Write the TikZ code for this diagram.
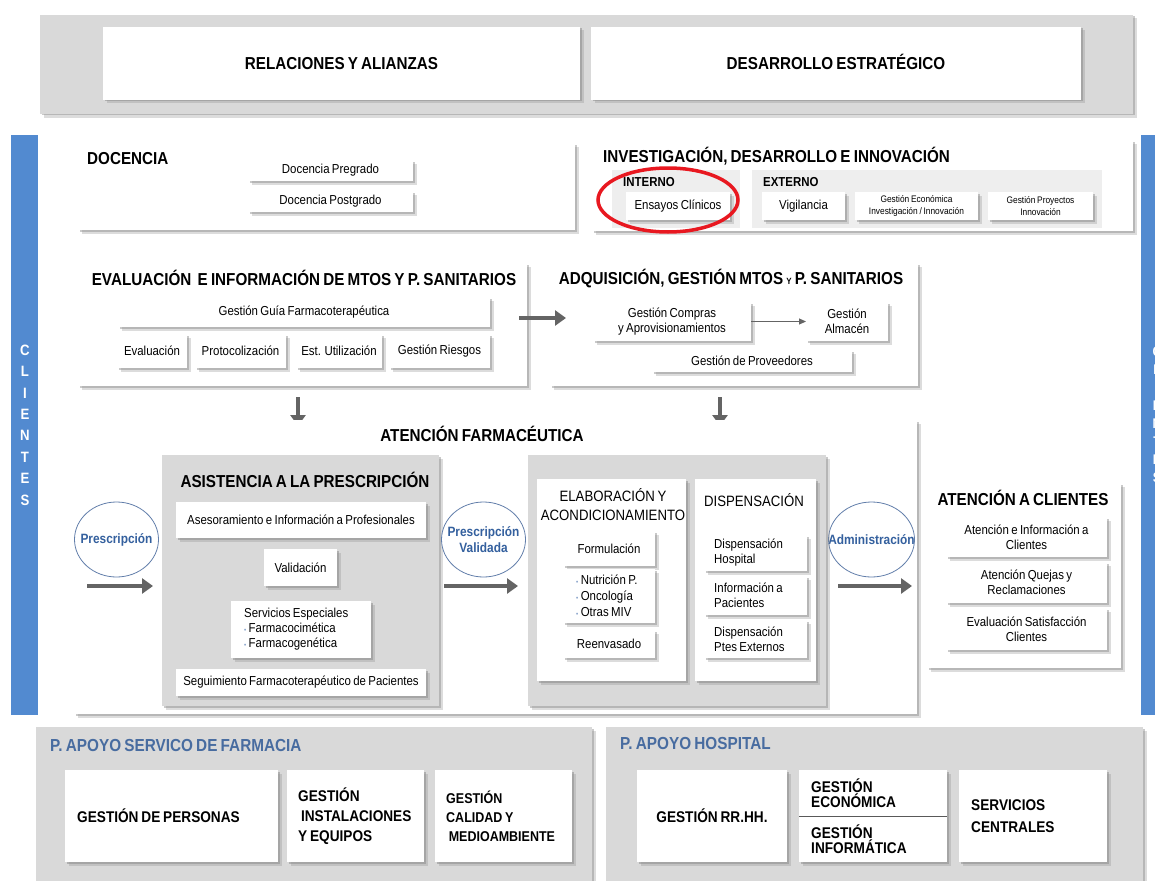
\documentclass[tikz,border=0pt]{standalone}
\usepackage{fontspec}
\setmainfont{Liberation Sans}[FakeStretch=0.88,WordSpace=0.75]
\usetikzlibrary{shapes.geometric,arrows.meta,shadows,fit}

\definecolor{panelgray}{RGB}{217,217,217}
\definecolor{lightpanel}{RGB}{238,238,238}
\definecolor{clientblue}{RGB}{82,138,208}
\definecolor{titleblue}{RGB}{72,108,160}
\definecolor{ovaltext}{RGB}{52,96,158}
\definecolor{ovalline}{RGB}{98,126,170}
\definecolor{arrowgray}{RGB}{100,100,100}
\definecolor{ringred}{RGB}{232,24,32}
\definecolor{bulletblue}{RGB}{120,150,195}

% empty box spanning two opposite corners: [options]{corner}{corner}{name}
\newcommand{\boxnode}[4][]{\node[inner sep=0pt, outer sep=0pt, fit={#2 #3}, #1] (#4) {};}
% box with its text centred: [box options]{corner}{corner}{name}{text options}{text}
\newcommand{\cbox}[6][]{\boxnode[#1]{#2}{#3}{#4}\node[#5] (#4t) at (#4.center) {#6};}
% box with its text set flush left: [box options]{corner}{corner}{name}{margin}{text options}{text}
\newcommand{\lbox}[7][]{\boxnode[#1]{#2}{#3}{#4}\node[anchor=west, #6] (#4t) at ([xshift=#5]#4.west) {#7};}
\newcommand{\bul}{{\color{bulletblue}\scriptsize\textbullet}\ }

\tikzset{
  softshadow/.style={
    drop shadow={shadow xshift=1.5pt, shadow yshift=-1.5pt, fill=black!60, opacity=0.35},
    drop shadow={shadow xshift=3.5pt, shadow yshift=-3.5pt, fill=black!45, opacity=0.3}},
  panel/.style={fill=panelgray, softshadow},
  whitebox/.style={fill=white, softshadow},
  item/.style={fill=white, softshadow},
  itxt/.style={font=\fontsize{13}{15}\selectfont, align=center, inner sep=0pt},
  ltxt/.style={font=\fontsize{13}{15}\selectfont, align=left, inner sep=0pt},
  tiny/.style={font=\fontsize{9.5}{11.5}\selectfont, align=center, inner sep=0pt},
  ttl/.style={font=\bfseries\fontsize{17.3}{19}\selectfont, inner sep=0pt, text height=12.4pt, text depth=0pt},
  sublabel/.style={font=\bfseries\fontsize{13}{15}\selectfont, inner sep=0pt},
  support/.style={fill=white, softshadow},
  stxt/.style={font=\bfseries\fontsize{15.5}{20}\selectfont, align=left, inner sep=0pt},
  btitle/.style={font=\bfseries\fontsize{17.4}{19}\selectfont, text=titleblue, inner sep=0pt},
  oval/.style={ellipse, draw=ovalline, line width=0.8pt, fill=white, minimum width=84pt,
    minimum height=75pt, inner sep=0pt},
  ovaltxt/.style={font=\bfseries\fontsize{13.5}{16}\selectfont, text=ovaltext, align=center, inner sep=0pt},
  bigarrow/.style={draw=arrowgray, line width=4.5pt, -{Triangle[length=11pt,width=15pt]}},
  thinarrow/.style={draw=arrowgray, line width=0.9pt, -{Triangle[length=7pt,width=6pt]}},
  letters/.style={font=\bfseries\fontsize{15}{21.4}\selectfont, text=white, align=center, inner sep=0pt}
}

\begin{document}
\begin{tikzpicture}[x=1pt,y=-1pt]
\useasboundingbox (0,0) rectangle (1155,880);
\clip (0,0) rectangle (1155,880);

% ---------- strategic processes ----------
\boxnode[panel]{(40,15)}{(1133,114)}{strat}
\cbox[whitebox]{(103,27)}{(580,100)}{rel}{ttl}{RELACIONES Y ALIANZAS}
\cbox[whitebox]{(591,27)}{(1081,100)}{des}{ttl}{DESARROLLO ESTRATÉGICO}

% ---------- client bars ----------
\boxnode[fill=clientblue]{(11,135)}{(38,715)}{cliL}
\node[letters] (cliLT) at (25,425) {C\\L\\I\\E\\N\\T\\E\\S};
\boxnode[fill=clientblue]{(1141,135)}{(1170,715)}{cliR}
\node[letters, font=\bfseries\fontsize{14}{18}\selectfont] (cliRT) at (1157,415) {C\\L\\I\\E\\N\\T\\E\\S};

% ---------- teaching ----------
\boxnode[whitebox]{(78,143)}{(575,230)}{doc}
\node[ttl, anchor=west] (docT) at (87,158) {DOCENCIA};
\cbox[item]{(248,160)}{(413,181)}{dpre}{itxt}{Docencia Pregrado}
\cbox[item]{(248,191)}{(413,212)}{dpos}{itxt}{Docencia Postgrado}

% ---------- research ----------
\boxnode[whitebox]{(592,140)}{(1133,231)}{idi}
\node[ttl, anchor=west] (idiT) at (603,156) {INVESTIGACIÓN, DESARROLLO E INNOVACIÓN};
\boxnode[fill=lightpanel]{(612,170)}{(740,228)}{intP}
\boxnode[fill=lightpanel]{(752,170)}{(1102,228)}{extP}
\node[sublabel, anchor=west] (intT) at (623,182) {INTERNO};
\node[sublabel, anchor=west] (extT) at (763,182) {EXTERNO};
\cbox[item]{(626,192)}{(730,220)}{ens}{itxt}{Ensayos Clínicos}
\cbox[item]{(762,192)}{(845,220)}{vig}{itxt}{Vigilancia}
\cbox[item]{(855,192)}{(978,220)}{gei}{tiny}{Gestión Económica\\Investigación / Innovación}
\cbox[item]{(988,192)}{(1093,220)}{gpi}{tiny}{Gestión Proyectos\\Innovación}
\node[draw=ringred, line width=3.5pt, ellipse, minimum width=140pt, minimum height=64pt, inner sep=0pt] (ring) at (668,200) {};

% ---------- evaluation ----------
\boxnode[whitebox]{(78,263)}{(527,386)}{evl}
\node[ttl] (evlT) at (304,279) {EVALUACIÓN\ \ E INFORMACIÓN DE MTOS Y P. SANITARIOS};
\cbox[item]{(118,297)}{(490,327)}{ggf}{itxt}{Gestión Guía Farmacoterapéutica}
\cbox[item]{(117,334)}{(187,368)}{eva}{itxt}{Evaluación}
\cbox[item]{(195,334)}{(286,368)}{pro}{itxt}{Protocolización}
\cbox[item]{(296,334)}{(382,368)}{est}{itxt}{Est. Utilización}
\cbox[item]{(389,334)}{(490,368)}{rie}{itxt}{Gestión Riesgos}

% ---------- acquisition ----------
\boxnode[whitebox]{(550,263)}{(918,386)}{adq}
\node[ttl] (adqT) at (731,278) {ADQUISICIÓN, GESTIÓN MTOS {\fontsize{9}{9}\selectfont Y} P. SANITARIOS};
\cbox[item]{(593,302)}{(751,341)}{com}{itxt}{Gestión Compras\\y Aprovisionamientos}
\cbox[item]{(806,302)}{(888,341)}{alm}{itxt}{Gestión\\Almacén}
\cbox[item]{(652,350)}{(852,372)}{prv}{itxt}{Gestión de Proveedores}
\draw[thinarrow] (com.east) -- (alm.west);

\coordinate (ea) at (519,318);
\coordinate (eb) at (566,318);
\draw[bigarrow] (ea) -- (eb);
\coordinate (da) at (298,397);
\coordinate (db) at (298,426);
\draw[bigarrow] (da) -- (db);
\coordinate (dc) at (720,397);
\coordinate (dd) at (720,426);
\draw[bigarrow] (dc) -- (dd);

% ---------- pharmaceutical care ----------
\boxnode[whitebox]{(74,420)}{(917,714)}{af}
\node[ttl] (afT) at (482,435) {ATENCIÓN FARMACÉUTICA};

\boxnode[panel]{(162,455)}{(439,706)}{asi}
\node[ttl] (asiT) at (305,481) {ASISTENCIA A LA PRESCRIPCIÓN};
\cbox[item]{(176,502)}{(426,538)}{ase}{itxt}{Asesoramiento e Información a Profesionales}
\cbox[item]{(264,549)}{(337,586)}{val}{itxt}{Validación}
\lbox[item]{(231,601)}{(371,658)}{ser}{13pt}{ltxt}{Servicios Especiales\\\bul Farmacocimética\\\bul Farmacogenética}
\cbox[item]{(176,669)}{(426,696)}{seg}{itxt}{Seguimiento Farmacoterapéutico de Pacientes}

\node[oval] (prs) at (116.5,539.5) {};
\node[ovaltxt] (prsT) at (prs) {Prescripción};
\node[oval] (pval) at (483.5,539.5) {};
\node[ovaltxt] (pvalT) at (pval) {Prescripción\\Validada};
\node[oval, minimum width=86pt] (adm) at (871.5,539.5) {};
\node[ovaltxt] (admT) at (adm) {Administración};

\coordinate (pa1) at (87,586);
\coordinate (pa2) at (153,586);
\draw[bigarrow] (pa1) -- (pa2);
\coordinate (pb1) at (444,586);
\coordinate (pb2) at (518,586);
\draw[bigarrow] (pb1) -- (pb2);
\coordinate (pc1) at (838,586);
\coordinate (pc2) at (912,586);
\draw[bigarrow] (pc1) -- (pc2);

\boxnode[panel]{(528,455)}{(826,706)}{prep}
\boxnode[whitebox]{(537,479)}{(686,681)}{ela}
\boxnode[whitebox]{(695,479)}{(816,681)}{dis}
\node[font=\fontsize{15}{19}\selectfont, align=center, inner sep=0pt] (elaT) at (613,505) {ELABORACIÓN Y\\ACONDICIONAMIENTO};
\node[font=\fontsize{15}{17}\selectfont, inner sep=0pt] (disT) at (754,500) {DISPENSACIÓN};
\cbox[item]{(563,531)}{(655,566)}{for}{itxt}{Formulación}
\lbox[item]{(563,569)}{(655,623)}{nut}{13pt}{ltxt, font=\fontsize{13}{16}\selectfont}{\bul Nutrición P.\\\bul Oncología\\\bul Otras MIV}
\cbox[item]{(563,630)}{(655,658)}{ree}{itxt}{Reenvasado}
\lbox[item]{(704,535)}{(807,571)}{dho}{10pt}{ltxt}{Dispensación\\Hospital}
\lbox[item]{(704,576)}{(807,615)}{ipa}{10pt}{ltxt}{Información a\\Pacientes}
\lbox[item]{(704,620)}{(807,658)}{dpe}{10pt}{ltxt}{Dispensación\\Ptes Externos}

% ---------- customer care ----------
\boxnode[whitebox]{(927,483)}{(1121,668)}{acl}
\node[ttl] (aclT) at (1023,499) {ATENCIÓN A CLIENTES};
\cbox[item]{(946,517)}{(1107,557)}{aic}{itxt}{Atención e Información a\\Clientes}
\cbox[item]{(946,562)}{(1107,603)}{aqr}{itxt}{Atención Quejas y\\Reclamaciones}
\cbox[item]{(946,608)}{(1107,650)}{esc}{itxt}{Evaluación Satisfacción\\Clientes}

% ---------- support processes ----------
\boxnode[panel]{(36,727)}{(592,895)}{apf}
\node[btitle, anchor=west] (apfT) at (50,745) {P. APOYO SERVICO DE FARMACIA};
\lbox[support]{(65,770)}{(278,862)}{per}{12pt}{stxt}{GESTIÓN DE PERSONAS}
\lbox[support]{(287,770)}{(424,862)}{ins}{11pt}{stxt}{GESTIÓN\\\ INSTALACIONES\\Y EQUIPOS}
\lbox[support]{(435,770)}{(572,862)}{cal}{11pt}{stxt, font=\bfseries\fontsize{14.2}{19}\selectfont}{GESTIÓN\\CALIDAD Y\\\ MEDIOAMBIENTE}

\boxnode[panel]{(606,727)}{(1143,895)}{aph}
\node[btitle, anchor=west] (aphT) at (620,743) {P. APOYO HOSPITAL};
\cbox[support]{(637,770)}{(787,862)}{rrhh}{stxt}{GESTIÓN RR.HH.}
\boxnode[support]{(799,770)}{(947,862)}{eco}
\boxnode{(799,770)}{(947,816)}{ecoA}
\boxnode{(799,816)}{(947,862)}{ecoB}
\node[stxt, font=\bfseries\fontsize{15.5}{15}\selectfont, anchor=west] (ecoAT) at ([xshift=12pt]ecoA.west) {GESTIÓN\\ECONÓMICA};
\node[stxt, font=\bfseries\fontsize{15.5}{15}\selectfont, anchor=west] (ecoBT) at ([xshift=12pt]ecoB.west) {GESTIÓN\\INFORMÁTICA};
\draw[black!65, line width=0.8pt] (ecoA.south west) -- (ecoA.south east);
\lbox[support]{(959,770)}{(1107,862)}{scen}{12pt}{stxt, font=\bfseries\fontsize{15.5}{22.5}\selectfont}{SERVICIOS\\CENTRALES}

\end{tikzpicture}
\end{document}
